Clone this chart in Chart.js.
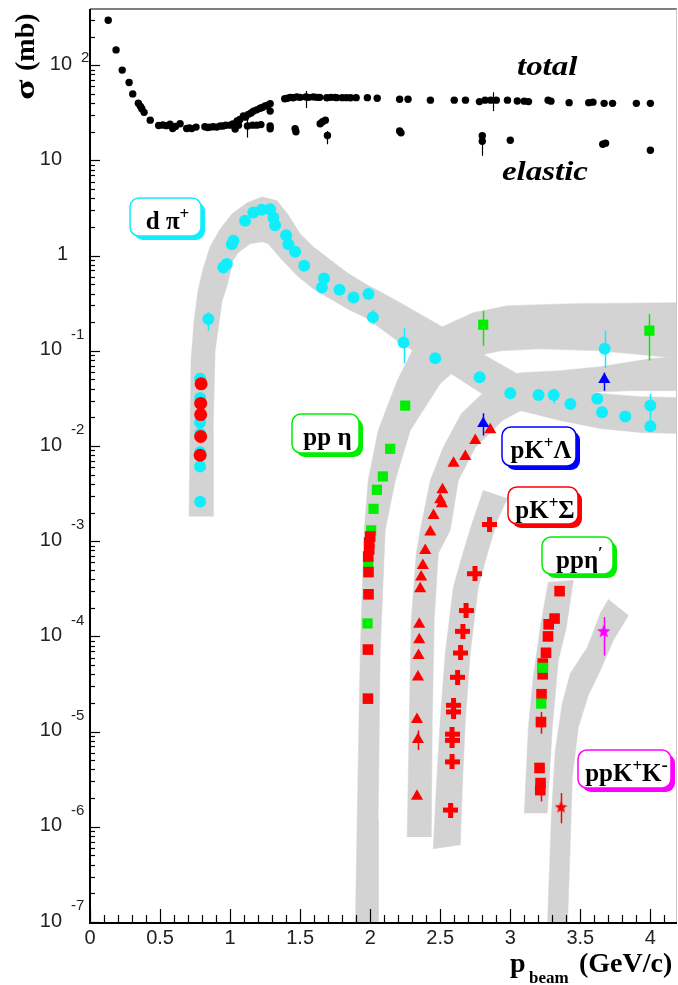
<!DOCTYPE html>
<html>
<head>
<meta charset="UTF-8">
<title>pp cross sections vs beam momentum</title>
<script src="https://cdn.jsdelivr.net/npm/chart.js@4.4.1/dist/chart.umd.min.js"></script>
<style>
  body { margin: 0; background: #fff; }
  canvas { display: block; }
</style>
</head>
<body>
<canvas id="myChart" width="678" height="985"></canvas>
<script>
// --- data: [p_beam (GeV/c), sigma (mb)] ---
const totalXS = [[0.13,297],[0.186,145],[0.23,89],[0.279,66],[0.305,50],[0.345,40],[0.36,37],[0.37,35],[0.386,32],[0.43,26.5],
  [0.49,23.3],[0.52,23.6],[0.545,23.2],[0.571,24],[0.59,21.7],[0.61,22.8],[0.643,24.3],[0.69,21.7],[0.71,22],[0.726,21.6],
  [0.757,22.4],[0.82,22.6],[0.84,22.2],[0.857,22.4],[0.88,22.6],[0.905,22.4],[0.93,23],[0.95,23],[0.97,23.4],[1.0,23.5],
  [1.02,24.2],[1.036,21.4],[1.05,26],[1.07,27],[1.095,29.3],[1.11,28.5],[1.13,30.5],[1.15,31.5],[1.167,33],[1.19,34],
  [1.214,35.3],[1.23,36],[1.25,37.3],[1.27,38],[1.286,39.5],[1.286,33],[1.39,44.5],[1.41,45],[1.43,46],[1.45,45.5],
  [1.476,46.5],[1.5,46],[1.54,46.5],[1.56,46],[1.595,46.5],[1.62,46],[1.64,46],[1.69,45.5],[1.72,46],[1.75,46],
  [1.76,45.7],[1.80,45.7],[1.83,45.7],[1.86,45.5],[1.90,45.7],[1.98,45.7],[2.05,45],[2.21,44],[2.27,44],[2.43,43],
  [2.6,43],[2.68,43],[2.78,41.5],[2.82,43],[2.86,43],[2.9,43],[2.98,43],[3.05,42.2],[3.1,42],[3.13,41.5],
  [3.27,43],[3.29,42],[3.42,40.5],[3.56,40.5],[3.59,41],[3.67,39.8],[3.73,39.8],[3.9,39.8],[4.0,39.8]];
const elasticXS = [[1.06,23.5],[1.124,23],[1.16,23.5],[1.19,23.5],[1.22,23.8],[1.286,23],[1.286,21.5],[1.464,21.5],[1.47,20],
  [1.643,24.3],[1.66,25.5],[1.68,26.5],[1.695,18.3],[2.21,20.4],[2.22,19.5],[2.8,18.2],[2.8,15.9],[3.0,16.3],[3.66,14.8],
  [3.68,15.2],[4.0,12.8]];
const dPiCyan = [[0.786,0.051],[0.786,0.032],[0.786,0.0177],[0.786,0.0135],[0.786,0.0086],[0.786,0.0061],[0.786,0.0026],
  [0.845,0.216],[0.952,0.751],[0.976,0.816],[1.012,1.32],[1.024,1.43],[1.107,2.32],[1.166,2.84],[1.226,3.03],[1.286,3.08],
  [1.309,2.52],[1.321,2.09],[1.40,1.64],[1.416,1.32],[1.464,1.10],[1.529,0.783],[1.655,0.464],[1.671,0.577],[1.781,0.439],
  [1.881,0.364],[1.988,0.396],[2.019,0.225],[2.238,0.122],[2.464,0.0834],[2.781,0.0527],[3.0,0.0358],[3.202,0.0344],
  [3.31,0.0344],[3.429,0.0277],[3.621,0.0313],[3.655,0.0227],[3.674,0.105],[3.821,0.0204],[4.0,0.0266],[4.0,0.0161]];
const dPiRed = [[0.793,0.045],[0.79,0.028],[0.79,0.0214],[0.79,0.0126],[0.786,0.008]];
const ppEtaRed = [[2.0,1.12e-3],[1.993,9.7e-4],[1.993,8.2e-4],[1.986,6.9e-4],[1.988,4.74e-4],[1.988,2.77e-4],[1.984,7.28e-5],[1.984,2.22e-5]];
const ppEtaGreen = [[1.981,1.37e-4],[1.986,6.0e-4],[2.007,1.3e-3],[2.024,2.19e-3],[2.048,3.47e-3],[2.09,4.79e-3],[2.143,9.35e-3],
  [2.25,0.0266],[2.807,0.188],[3.993,0.163]];
const pKLambdaRed = [[2.857,0.0148],[2.75,0.0114],[2.679,0.00777],[2.595,0.0066],[2.516,0.00347],[2.5,0.00272],[2.512,0.00247],
  [2.452,0.00186],[2.429,0.00125],[2.393,8.0e-4],[2.376,5.57e-4],[2.364,4.2e-4],[2.357,3.17e-4],[2.35,1.34e-4],[2.35,9.25e-5],
  [2.345,6.32e-5],[2.341,3.75e-5],[2.334,1.34e-5],[2.341,8.26e-6],[2.334,2.09e-6]];
const pKLambdaBlue = [[2.807,0.0172],[3.671,0.0499]];
const pKSigmaRed = [[2.852,1.5e-3],[2.748,4.56e-4],[2.684,1.87e-4],[2.662,1.13e-4],[2.645,6.7e-5],[2.624,3.72e-5],[2.595,1.89e-5],
  [2.595,1.61e-5],[2.584,9.4e-6],[2.584,8.1e-6],[2.584,4.81e-6],[2.574,1.5e-6]];
const ppEtaPrimeRed = [[3.352,2.99e-4],[3.316,1.54e-4],[3.274,1.34e-4],[3.269,1.0e-4],[3.255,6.73e-5],[3.232,5.19e-5],[3.231,4.0e-5],
  [3.223,2.47e-5],[3.219,1.26e-5],[3.209,4.15e-6],[3.216,2.88e-6],[3.214,2.43e-6]];
const ppEtaPrimeGreen = [[3.234,4.68e-5],[3.221,1.97e-5]];
const ppKKMagenta = [[3.667,1.14e-4]];
const ppKKRed = [[3.362,1.62e-6]];

// error bars: [p, low, high]
const blackErr = [[1.543,35.6,53.7],[2.88,33,52],[1.124,17.4,28.2],[1.695,14.8,20.4],[2.8,11.2,19.6]];
const cyanErr = [[0.845,0.163,0.254],[2.238,0.074,0.175],[3.674,0.066,0.163],[3.31,0.028,0.040],[4.0,0.0158,0.0353],[2.019,0.19,0.27]];
const greenErr = [[2.807,0.113,0.264],[3.993,0.079,0.244]];
const blueErr = [[2.807,0.0129,0.0221],[3.671,0.038,0.059]];
const redErr = [[2.341,6.4e-6,1.03e-5],[3.216,1.85e-6,2.9e-6],[3.219,9.5e-6,1.61e-5],[3.362,1.09e-6,2.26e-6]];
const magentaErr = [[3.667,6.3e-5,1.6e-4]];

// grey bands: outlines of each channel band
const bandDPi = [[0.707,1.82e-3],[0.714,0.0146],[0.721,0.0789],[0.743,0.207],[0.771,0.429],[0.807,0.730],[0.857,1.24],[0.929,1.91],
  [1.014,2.75],[1.121,3.59],[1.229,4.15],[1.336,3.77],[1.414,2.69],[1.5,1.70],[1.593,1.24],[1.714,0.906],[1.836,0.662],
  [1.964,0.507],[2.071,0.418],[2.214,0.321],[2.5,0.184],[2.786,0.0957],[3.071,0.0550],[3.357,0.0421],[3.643,0.0356],
  [3.929,0.0330],[4.214,0.0323],
  [4.214,0.0135],[3.929,0.0139],[3.643,0.0153],[3.357,0.0185],[3.071,0.0236],[2.786,0.0364],[2.5,0.068],[2.214,0.121],
  [1.979,0.218],[1.836,0.277],[1.714,0.353],[1.593,0.450],[1.479,0.615],[1.357,0.951],[1.271,1.33],[1.229,1.40],[1.143,1.33],
  [1.057,1.07],[1.021,0.885],[0.979,0.483],[0.943,0.337],[0.893,0.100],[0.879,0.0146],[0.879,1.82e-3]];
const bandPPEta = [[1.893,7.3e-8],[1.907,1.17e-6],[1.929,6.65e-5],[1.957,1.30e-3],[1.986,4.35e-3],[2.057,0.0146],[2.193,0.0486],
  [2.3,0.100],[2.379,0.134],[2.5,0.175],[2.736,0.252],[2.979,0.298],[3.45,0.313],[4.214,0.321],
  [4.214,0.0828],[4.0,0.0891],[3.643,0.100],[3.214,0.105],[2.929,0.100],[2.714,0.0849],[2.5,0.0453],[2.286,0.0146],
  [2.179,4.35e-3],[2.107,1.30e-3],[2.071,6.65e-5],[2.057,1.17e-6],[2.057,7.3e-8]];
const bandPKLambda = [[2.264,7.80e-7],[2.279,1.32e-5],[2.293,1.48e-4],[2.329,7.45e-4],[2.357,1.30e-3],[2.429,4.35e-3],[2.521,9.64e-3],
  [2.65,0.0219],[2.771,0.0323],[2.871,0.0453],[3.071,0.0590],[3.357,0.0619],[3.643,0.0682],[4.0,0.0828],[4.214,0.0869],
  [4.214,0.0382],[3.857,0.0382],[3.5,0.0364],[3.143,0.0266],[2.943,0.0185],[2.75,9.64e-3],[2.629,4.35e-3],[2.571,1.30e-3],
  [2.486,7.45e-4],[2.457,1.48e-4],[2.443,1.32e-5],[2.436,7.80e-7]];
const bandPKSigma = [[2.45,5.83e-7],[2.471,2.43e-6],[2.5,1.32e-5],[2.536,6.65e-5],[2.593,3.27e-4],[2.657,7.10e-4],[2.729,1.57e-3],
  [2.807,3.41e-3],[2.979,2.81e-3],[2.907,1.65e-3],[2.843,7.99e-4],[2.771,3.27e-4],[2.714,6.65e-5],[2.679,1.32e-5],
  [2.657,2.43e-6],[2.643,6.43e-7]];
const bandPPEtaPrime = [[3.1,1.39e-6],[3.129,1.11e-5],[3.164,3.72e-5],[3.214,1.24e-4],[3.271,3.70e-4],[3.45,3.88e-4],
  [3.4,1.24e-4],[3.343,5.61e-5],[3.3,1.11e-5],[3.264,1.39e-6]];
const bandPPKK = [[3.264,8.24e-8],[3.293,1.26e-6],[3.321,6.38e-6],[3.371,1.99e-5],[3.429,4.10e-5],[3.55,7.69e-5],[3.643,1.75e-4],
  [3.7,2.45e-4],[3.843,1.66e-4],[3.736,9.10e-5],[3.643,4.41e-5],[3.557,2.41e-5],[3.486,1.11e-5],[3.443,3.33e-6],
  [3.429,7.24e-7],[3.407,8.24e-8]];

// axis labels
const xTickLabels = ['0','0.5','1','1.5','2','2.5','3','3.5','4'];
const yDecades = [-7,-6,-5,-4,-3,-2,-1,0,1,2];

const toPts = arr => arr.map(([x, y]) => ({x, y}));

function plusImage(size, arm, color) {
  const c = document.createElement('canvas');
  c.width = size; c.height = size;
  const g = c.getContext('2d');
  g.fillStyle = color;
  const o = (size - arm) / 2;
  g.fillRect(0, o, size, arm);
  g.fillRect(o, 0, arm, size);
  return c;
}
function starImage(size, color) {
  const c = document.createElement('canvas');
  c.width = size; c.height = size;
  const g = c.getContext('2d');
  g.fillStyle = color;
  g.beginPath();
  const r = size / 2, ri = r * 0.45;
  for (let i = 0; i < 10; i++) {
    const rr = i % 2 ? ri : r;
    const a = -Math.PI / 2 + i * Math.PI / 5;
    const px = r + rr * Math.cos(a), py = r + 0.6 + rr * Math.sin(a);
    if (i) g.lineTo(px, py); else g.moveTo(px, py);
  }
  g.closePath();
  g.fill();
  return c;
}

const CYAN = '#11eefb', RED = '#ff0000', GREEN = '#00ee00', BLUE = '#0000ff', MAGENTA = '#ff00ff', GREY = '#d3d3d3';

function marks(data, style, color, radius, order) {
  return {
    data: toPts(data), pointStyle: style, pointRadius: radius,
    pointBackgroundColor: color, pointBorderColor: color, pointBorderWidth: 0,
    showLine: false, order: order
  };
}
function band(outline) {
  return {
    data: toPts(outline), showLine: true, fill: 'shape', tension: 0,
    backgroundColor: GREY, borderColor: GREY, borderWidth: 0.5, pointRadius: 0, order: 20
  };
}

// error bars, text and ROOT-like axes
const extras = {
  id: 'extras',
  afterDatasetsDraw(chart) {
    const {ctx, scales: {x, y}} = chart;
    const sets = [[blackErr, '#000', 1.2], [cyanErr, CYAN, 1.5], [greenErr, GREEN, 1.5],
                  [blueErr, BLUE, 1.5], [redErr, RED, 1.5], [magentaErr, MAGENTA, 1.5]];
    ctx.save();
    sets.forEach(([arr, col, lw]) => {
      ctx.strokeStyle = col;
      ctx.lineWidth = lw;
      arr.forEach(([p, lo, hi]) => {
        const px = Math.round(x.getPixelForValue(p)) + 0.5;
        ctx.beginPath();
        ctx.moveTo(px, y.getPixelForValue(lo));
        ctx.lineTo(px, y.getPixelForValue(hi));
        ctx.stroke();
      });
    });
    ctx.restore();
  },
  afterDraw(chart) {
    const {ctx, chartArea: a, scales: {x, y}} = chart;
    ctx.save();
    // frame
    ctx.strokeStyle = '#555';
    ctx.lineWidth = 1.5;
    ctx.beginPath(); ctx.moveTo(a.left, a.top); ctx.lineTo(a.right, a.top); ctx.stroke();
    ctx.strokeStyle = '#c8c8c8';
    ctx.lineWidth = 1;
    ctx.beginPath(); ctx.moveTo(a.right - 0.5, a.top); ctx.lineTo(a.right - 0.5, a.bottom); ctx.stroke();
    // axes lines
    ctx.strokeStyle = '#000';
    ctx.lineWidth = 2;
    ctx.beginPath();
    ctx.moveTo(a.left, a.top); ctx.lineTo(a.left, a.bottom + 1); ctx.lineTo(a.right, a.bottom + 1);
    ctx.stroke();
    // y ticks (inside)
    ctx.lineWidth = 1.2;
    for (let e = -7; e <= 2; e++) {
      for (let m = 1; m <= 9; m++) {
        const v = m * Math.pow(10, e);
        if (v > y.max) break;
        const py = Math.round(y.getPixelForValue(v)) + 0.5;
        const len = m === 1 ? 10 : 5;
        ctx.beginPath(); ctx.moveTo(a.left, py); ctx.lineTo(a.left + len, py); ctx.stroke();
      }
    }
    // x ticks (inside)
    for (let i = 0; i <= 41; i++) {
      const px = Math.round(x.getPixelForValue(i / 10)) + 0.5;
      const len = i % 5 === 0 ? 13 : 7;
      ctx.beginPath(); ctx.moveTo(px, a.bottom); ctx.lineTo(px, a.bottom - len); ctx.stroke();
    }
    // x tick labels
    ctx.fillStyle = '#222';
    ctx.font = '20px "Liberation Sans", Arial, sans-serif';
    ctx.textAlign = 'center';
    ctx.textBaseline = 'top';
    xTickLabels.forEach((t, i) => ctx.fillText(t, x.getPixelForValue(i * 0.5), a.bottom + 6));
    // y tick labels: 10 with exponent
    ctx.textBaseline = 'middle';
    yDecades.forEach(e => {
      const py = y.getPixelForValue(Math.pow(10, e)) - 1;
      ctx.font = '20px "Liberation Sans", Arial, sans-serif';
      ctx.textAlign = 'right';
      if (e === 0) { ctx.fillText('1', a.left - 22, py); return; }
      if (e === 1) { ctx.fillText('10', a.left - 28, py); return; }
      const right = e === 2 ? a.left - 18 : a.left - 28;
      ctx.fillText('10', right, py);
      ctx.font = '15px "Liberation Sans", Arial, sans-serif';
      ctx.textAlign = 'left';
      ctx.fillText(String(e), right + 9, py - (e === 2 ? 6 : 15));
    });
    // axis titles
    ctx.fillStyle = '#000';
    ctx.textBaseline = 'alphabetic';
    ctx.textAlign = 'left';
    ctx.save();
    ctx.translate(34, 100);
    ctx.rotate(-Math.PI / 2);
    ctx.font = 'bold 28px "Liberation Serif", serif';
    ctx.save(); ctx.scale(1.35, 1); ctx.fillText('σ', 0, 0); ctx.restore();
    ctx.fillText(' (mb)', 22, 0);
    ctx.restore();
    ctx.font = 'bold 28px "Liberation Serif", serif';
    ctx.fillText('p', 510, 972);
    ctx.font = 'bold 17px "Liberation Serif", serif';
    ctx.fillText('beam', 529, 983);
    ctx.font = 'bold 28px "Liberation Serif", serif';
    ctx.fillText('(GeV/c)', 579, 972);
    // total / elastic
    ctx.font = 'italic bold 27px "Liberation Serif", serif';
    [['total', 517, 75], ['elastic', 502, 180]].forEach(([t, tx, ty]) => {
      ctx.save(); ctx.translate(tx, ty); ctx.scale(1.22, 1); ctx.fillText(t, 0, 0); ctx.restore();
    });
    // channel labels in shadowed boxes
    const boxes = [
      {x: 130, y: 198, w: 71, h: 38, c: CYAN, parts: [['d π', 25, 0], ['+', 17, -10]]},
      {x: 292, y: 414, w: 67, h: 39, c: GREEN, parts: [['pp η', 25, 0]]},
      {x: 502, y: 427, w: 74, h: 39, c: BLUE, parts: [['pK', 25, 0], ['+', 17, -10], ['Λ', 25, 0]]},
      {x: 508, y: 487, w: 70, h: 37, c: RED, parts: [['pK', 25, 0], ['+', 17, -10], ['Σ', 25, 0]]},
      {x: 542, y: 537, w: 71, h: 37, c: GREEN, parts: [['ppη', 25, 0], ['′', 17, -10]]},
      {x: 578, y: 750, w: 93, h: 38, c: MAGENTA, parts: [['ppK', 25, 0], ['+', 17, -10], ['K', 25, 0], ['-', 19, -10]]}
    ];
    boxes.forEach(b => {
      ctx.fillStyle = b.c;
      ctx.beginPath(); ctx.roundRect(b.x + 4, b.y + 4, b.w, b.h, 9); ctx.fill();
      ctx.fillStyle = '#fff';
      ctx.beginPath(); ctx.roundRect(b.x, b.y, b.w, b.h, 9); ctx.fill();
      ctx.strokeStyle = b.c; ctx.lineWidth = 1.5; ctx.stroke();
      let total = 0;
      b.parts.forEach(([t, s]) => { ctx.font = 'bold ' + s + 'px "Liberation Serif", serif'; total += ctx.measureText(t).width; });
      let tx = b.x + (b.w - total) / 2 + 2;
      ctx.fillStyle = '#000';
      b.parts.forEach(([t, s, dy]) => {
        ctx.font = 'bold ' + s + 'px "Liberation Serif", serif';
        ctx.fillText(t, tx, b.y + 31 + dy);
        tx += ctx.measureText(t).width;
      });
    });
    ctx.restore();
  }
};

const plusRed = plusImage(15, 5, RED);
const starMag = starImage(14, MAGENTA);
const starRed = starImage(13, RED);

new Chart(document.getElementById('myChart'), {
  type: 'scatter',
  data: {
    datasets: [
      marks(dPiRed, 'circle', RED, 6.5, 0),
      marks(dPiCyan, 'circle', CYAN, 6, 1),
      marks(totalXS, 'circle', '#000', 3.7, 1),
      marks(elasticXS, 'circle', '#000', 3.7, 1),
      marks(ppEtaRed, 'rect', RED, 7.5, 1),
      marks(ppEtaGreen, 'rect', GREEN, 7.2, 2),
      marks(pKLambdaBlue, 'triangle', BLUE, 7, 0),
      marks(pKLambdaRed, 'triangle', RED, 7, 1),
      marks(pKSigmaRed, plusRed, RED, 7, 1),
      marks(ppEtaPrimeGreen, 'rect', GREEN, 7.2, 0),
      marks(ppEtaPrimeRed, 'rect', RED, 7.5, 1),
      marks(ppKKMagenta, starMag, MAGENTA, 7, 1),
      marks(ppKKRed, starRed, RED, 7, 1),
      band(bandDPi),
      band(bandPPEta),
      band(bandPKLambda),
      band(bandPKSigma),
      band(bandPPEtaPrime),
      band(bandPPKK)
    ]
  },
  options: {
    responsive: false,
    animation: false,
    devicePixelRatio: 1,
    layout: { autoPadding: false, padding: { top: 9, right: 1, left: 0, bottom: 0 } },
    scales: {
      x: {
        type: 'linear', min: 0, max: 4.19,
        grid: { display: false }, border: { display: false }, ticks: { display: false },
        afterFit: s => { s.height = 63; }
      },
      y: {
        type: 'logarithmic', min: 1e-7, max: 390,
        grid: { display: false }, border: { display: false }, ticks: { display: false },
        afterFit: s => { s.width = 90; }
      }
    },
    plugins: {
      legend: { display: false },
      tooltip: { enabled: false }
    }
  },
  plugins: [extras]
});
</script>
</body>
</html>
